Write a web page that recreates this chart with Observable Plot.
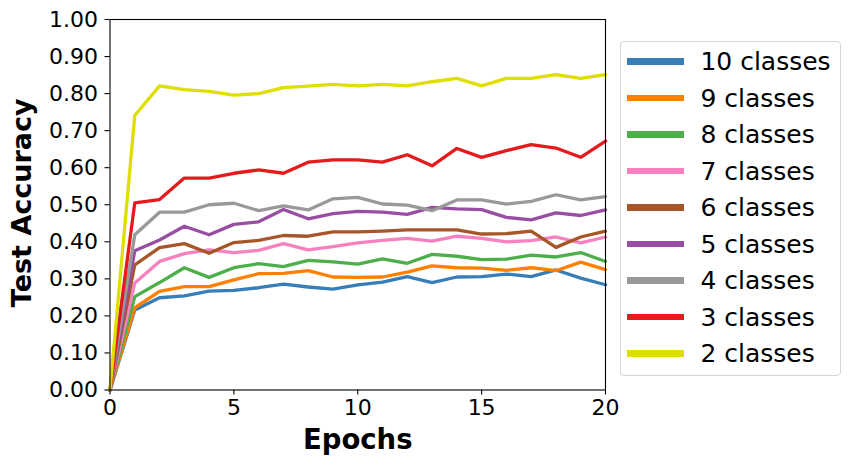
<!DOCTYPE html>
<html>
<head>
<meta charset="utf-8">
<script src="https://cdn.jsdelivr.net/npm/d3@7"></script>
<script src="https://cdn.jsdelivr.net/npm/@observablehq/plot@0.6"></script>
<style>
  html, body { margin: 0; padding: 0; background: #fff; }
  #wrap { position: relative; width: 850px; height: 466px; font-family: "DejaVu Sans", sans-serif; }
  #legend { position: absolute; left: 620px; top: 41px; width: 221px; height: 335px; box-sizing: border-box;
    border: 1px solid #d5d5d5; border-radius: 4px; background: rgba(255,255,255,0.8); padding-top: 1px; }
  .row { display: flex; align-items: center; height: 36.5px; }
  .sw { margin-left: 5.7px; width: 57px; height: 6.5px; flex: none; }
  .lb { margin-left: 16.7px; font-size: 25px; line-height: 36.5px; color: #000; position: relative; top: 1.2px; white-space: nowrap; }
</style>
</head>
<body>
<div id="wrap"><div id="chart"></div><div id="legend"></div></div>
<script>
const epochs = d3.range(0, 21);
const seriesNames = ["10 classes", "9 classes", "8 classes", "7 classes", "6 classes", "5 classes", "4 classes", "3 classes", "2 classes"];
const seriesColors = ["#377eb8", "#ff7f00", "#4daf4a", "#f781bf", "#a65628", "#984ea3", "#999999", "#e41a1c", "#dede00"];
const acc10 = [0, 0.216, 0.249, 0.254, 0.267, 0.269, 0.276, 0.286, 0.278, 0.272, 0.284, 0.291, 0.306, 0.290, 0.305, 0.306, 0.313, 0.306, 0.324, 0.302, 0.284];
const acc9  = [0, 0.222, 0.266, 0.279, 0.279, 0.297, 0.314, 0.315, 0.322, 0.305, 0.304, 0.305, 0.318, 0.335, 0.330, 0.329, 0.323, 0.330, 0.322, 0.345, 0.325];
const acc8  = [0, 0.252, 0.290, 0.330, 0.304, 0.330, 0.341, 0.333, 0.350, 0.346, 0.340, 0.354, 0.342, 0.366, 0.361, 0.352, 0.353, 0.364, 0.359, 0.371, 0.347];
const acc7  = [0, 0.289, 0.347, 0.368, 0.378, 0.371, 0.377, 0.395, 0.378, 0.387, 0.397, 0.404, 0.409, 0.402, 0.415, 0.409, 0.400, 0.403, 0.413, 0.397, 0.413];
const acc6  = [0, 0.338, 0.384, 0.395, 0.369, 0.398, 0.404, 0.417, 0.415, 0.427, 0.427, 0.429, 0.432, 0.432, 0.432, 0.421, 0.422, 0.429, 0.385, 0.413, 0.429];
const acc5  = [0, 0.376, 0.405, 0.442, 0.419, 0.447, 0.454, 0.487, 0.462, 0.476, 0.482, 0.480, 0.474, 0.493, 0.489, 0.487, 0.466, 0.459, 0.478, 0.471, 0.486];
const acc4  = [0, 0.419, 0.480, 0.480, 0.500, 0.504, 0.484, 0.497, 0.486, 0.516, 0.520, 0.502, 0.499, 0.484, 0.513, 0.513, 0.502, 0.509, 0.527, 0.513, 0.522];
const acc3  = [0, 0.505, 0.514, 0.572, 0.572, 0.585, 0.594, 0.585, 0.615, 0.621, 0.621, 0.615, 0.635, 0.605, 0.652, 0.628, 0.646, 0.662, 0.653, 0.628, 0.672];
const acc2  = [0, 0.741, 0.821, 0.811, 0.806, 0.796, 0.800, 0.816, 0.820, 0.825, 0.821, 0.825, 0.821, 0.832, 0.841, 0.821, 0.841, 0.841, 0.851, 0.841, 0.851];
const xTicks = [0, 5, 10, 15, 20];
const yTicks = d3.range(0, 11).map(i => i / 10);

const allSeries = [acc10, acc9, acc8, acc7, acc6, acc5, acc4, acc3, acc2];
const rows = [];
allSeries.forEach((vals, si) => {
  vals.forEach((v, i) => rows.push({epoch: epochs[i], acc: v, series: seriesNames[si]}));
});

const chart = Plot.plot({
  width: 850,
  height: 466,
  marginLeft: 109.5,
  marginRight: 245,
  marginTop: 19,
  marginBottom: 76.5,
  style: {fontFamily: "DejaVu Sans", fontSize: "22px", color: "black", background: "white"},
  x: {domain: [0, 20], ticks: xTicks},
  y: {domain: [0, 1], ticks: yTicks},
  color: {domain: seriesNames, range: seriesColors},
  marks: [
    Plot.line(rows, {x: "epoch", y: "acc", z: "series", stroke: "series", strokeWidth: 3.3, strokeLinejoin: "round"}),
    Plot.frame({stroke: "black", strokeWidth: 1.1}),
    Plot.axisX({ticks: xTicks, tickSize: 5, tickPadding: 4, fontSize: 22, label: null, stroke: "black", strokeWidth: 1.1}),
    Plot.axisY({ticks: yTicks, tickSize: 5, tickPadding: 7, fontSize: 22, label: null, tickFormat: d3.format(".2f"), stroke: "black", strokeWidth: 1.1}),
    Plot.text(["Epochs"], {frameAnchor: "bottom", lineAnchor: "middle", textAnchor: "middle", dy: 50, fontSize: 27.5, fontWeight: "bold", fill: "black"}),
    Plot.text(["Test Accuracy"], {frameAnchor: "left", textAnchor: "middle", lineAnchor: "middle", dx: -88, dy: -2, rotate: -90, fontSize: 27, fontWeight: "bold", fill: "black"})
  ]
});
document.getElementById("chart").appendChild(chart);

const legend = d3.select("#legend");
seriesNames.forEach((name, i) => {
  const r = legend.append("div").attr("class", "row");
  r.append("div").attr("class", "sw").style("background", seriesColors[i]);
  r.append("div").attr("class", "lb").text(name);
});
</script>
</body>
</html>
